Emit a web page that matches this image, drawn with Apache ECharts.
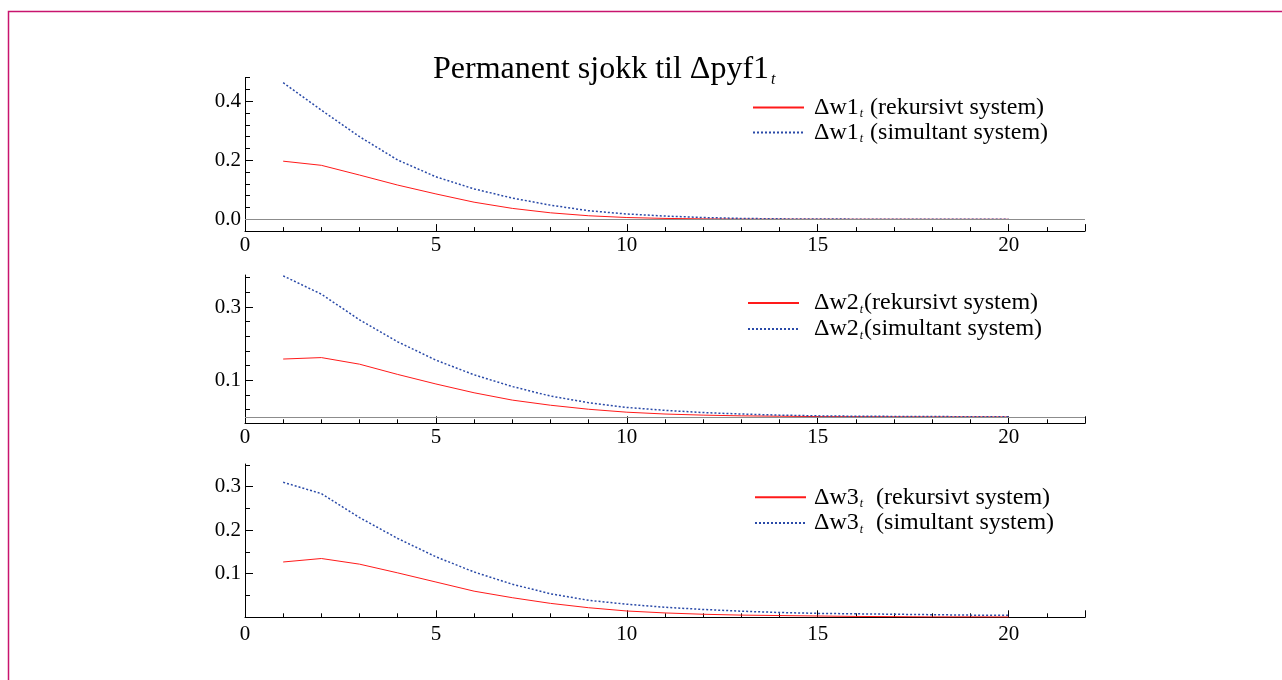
<!DOCTYPE html>
<html>
<head>
<meta charset="utf-8">
<script src="https://cdn.jsdelivr.net/npm/echarts@6/dist/echarts.min.js"></script>
<style>html,body{margin:0;padding:0;background:#fff;}#c{width:1282px;height:680px;}</style>
</head>
<body>
<div id="c"></div>
<script>
// ---- data ----
const periods = [1,2,3,4,5,6,7,8,9,10,11,12,13,14,15,16,17,18,19,20];
const w1Rekursivt = [0.197,0.183,0.150,0.116,0.086,0.058,0.037,0.022,0.012,0.006,0.003,0.0015,0.0008,0.0004,0.0002,0.0001,0.0001,0,0,0];
const w1Simultant = [0.463,0.370,0.280,0.201,0.144,0.103,0.072,0.048,0.029,0.018,0.011,0.006,0.003,0.0015,0.001,0.0005,0.0003,0.0002,0.0001,0.0001];
const w2Rekursivt = [0.158,0.162,0.144,0.116,0.090,0.066,0.046,0.032,0.021,0.013,0.008,0.005,0.003,0.002,0.001,0.0008,0.0005,0.0003,0.0002,0.0001];
const w2Simultant = [0.385,0.335,0.265,0.205,0.155,0.115,0.083,0.057,0.039,0.026,0.018,0.012,0.008,0.005,0.003,0.002,0.0015,0.001,0.0008,0.0005];
const w3Rekursivt = [0.127,0.135,0.122,0.102,0.081,0.060,0.045,0.032,0.022,0.0145,0.010,0.007,0.005,0.004,0.003,0.002,0.0015,0.001,0.001,0.0007];
const w3Simultant = [0.310,0.284,0.229,0.181,0.139,0.104,0.076,0.054,0.039,0.030,0.023,0.018,0.014,0.011,0.009,0.008,0.007,0.006,0.005,0.0046];

const titleText = 'Permanent sjokk til \u0394pyf1_t';
const legendNames = [
  ['\u0394w1_t (rekursivt system)', '\u0394w1_t (simultant system)'],
  ['\u0394w2_t(rekursivt system)', '\u0394w2_t(simultant system)'],
  ['\u0394w3_t  (rekursivt system)', '\u0394w3_t  (simultant system)']
];
const seriesValues = [[w1Rekursivt, w1Simultant],[w2Rekursivt, w2Simultant],[w3Rekursivt, w3Simultant]];
const xLabelValues = [0,5,10,15,20];
const yMajor = [[0,0.2,0.4],[0.1,0.3],[0.1,0.2,0.3]];
const yMinor = [
  [0.04,0.08,0.12,0.16,0.24,0.28,0.32,0.36,0.44,0.48],
  [0.02,0.06,0.14,0.18,0.22,0.26,0.34,0.38],
  [0.05,0.15,0.25,0.35]
];
const yRange = [[-0.04,0.48],[-0.0173,0.3873],[0,0.352]];

// ---- layout ----
const FONT = '"Liberation Serif", "Times New Roman", serif';
const grids = [
  {left:245, top:77.7, width:840, height:153.4},
  {left:245, top:275, width:840, height:148.3},
  {left:245, top:464, width:840, height:153.3}
];
const xLabelMargin = [4, 4, 7];
const legendPos = [
  {left:752, top:95, lh:25, pad:5},
  {left:747, top:290, lh:26, pad:10},
  {left:754, top:484.5, lh:25.7, pad:3}
];
const RED = '#ff1a1a', BLUE = '#2a4aa8';
const sub = (s) => s.replace('_t', '{sub|t}');

const xAxis = [], yAxis = [], series = [], legend = [];
grids.forEach((g, i) => {
  const xi = xAxis.length, yi = yAxis.length;
  xAxis.push({
    type:'value', gridIndex:i, position:'bottom', min:0, max:22, interval:1,
    axisLine:{onZero:false, lineStyle:{color:'#000', width:1}},
    axisTick:{inside:true, length:4, lineStyle:{color:'#000'}},
    axisLabel:{color:'#000', fontFamily:FONT, fontSize:21, margin:xLabelMargin[i],
      formatter:(v)=> xLabelValues.indexOf(v) >= 0 ? String(v) : ''},
    splitLine:{show:false}
  });
  xAxis.push({
    type:'value', gridIndex:i, position:'bottom', min:0, max:22, interval:5,
    axisLine:{show:false, onZero:false},
    axisTick:{inside:true, length:7, lineStyle:{color:'#000'}},
    axisLabel:{show:false}, splitLine:{show:false}
  });
  yAxis.push({
    type:'value', gridIndex:i, position:'left', min:yRange[i][0], max:yRange[i][1],
    axisLine:{show:true, onZero:false, lineStyle:{color:'#000', width:1}},
    axisTick:{show:true, inside:true, length:8, customValues:yMajor[i], lineStyle:{color:'#000'}},
    axisLabel:{color:'#000', fontFamily:FONT, fontSize:21, margin:4, customValues:yMajor[i],
      formatter:(v)=> v.toFixed(1)},
    splitLine:{show:false}
  });
  yAxis.push({
    type:'value', gridIndex:i, position:'left', min:yRange[i][0], max:yRange[i][1],
    axisLine:{show:false, onZero:false},
    axisTick:{show:true, inside:true, length:5, customValues:yMinor[i], lineStyle:{color:'#000'}},
    axisLabel:{show:false}, splitLine:{show:false}
  });
  const [rek, sim] = seriesValues[i];
  series.push({
    type:'line', name:legendNames[i][0], xAxisIndex:xi, yAxisIndex:yi,
    data: periods.map((t,k)=>[t, rek[k]]), symbol:'none', silent:true,
    lineStyle:{color:RED, width:1}, itemStyle:{color:RED}, z:3,
    markLine: i < 2 ? {silent:true, symbol:'none', label:{show:false},
      lineStyle:{color:'#8c8c8c', width:1, type:'solid'}, data:[{yAxis:0}]} : undefined
  });
  series.push({
    type:'line', name:legendNames[i][1], xAxisIndex:xi, yAxisIndex:yi,
    data: periods.map((t,k)=>[t, sim[k]]), symbol:'none', silent:true,
    lineStyle:{color:BLUE, width:1.5, type:[2,2]}, itemStyle:{color:BLUE}, z:4
  });
  const lp = legendPos[i];
  legend.push({
    data: legendNames[i], orient:'vertical', left:lp.left, top:lp.top,
    itemWidth:51, itemHeight:14, itemGap:0, padding:0, selectedMode:false,
    itemStyle:{opacity:0},
    formatter:(n)=> sub(n),
    textStyle:{color:'#000', fontFamily:FONT, fontSize:24, lineHeight:lp.lh, padding:[0,0,0,lp.pad],
      rich:{sub:{fontFamily:FONT, fontSize:12, fontStyle:'italic', lineHeight:lp.lh, verticalAlign:'bottom', padding:[0,1,0,1]}}}
  });
});

const chart = echarts.init(document.getElementById('c'), null, {renderer:'canvas'});
chart.setOption({
  backgroundColor:'#fff',
  animation:false,
  title:{
    text: sub(titleText), left:433, top:52, padding:0,
    textStyle:{color:'#000', fontFamily:FONT, fontSize:32, fontWeight:'normal', lineHeight:36,
      rich:{sub:{fontFamily:FONT, fontSize:16, fontStyle:'italic', lineHeight:36, verticalAlign:'bottom', padding:[0,0,0,2]}}}
  },
  graphic:[{type:'rect', silent:true, shape:{x:8.5, y:11.5, width:1300, height:700},
    style:{fill:'none', stroke:'#c8146e', lineWidth:1.5}}],
  grid: grids.map(g=>Object.assign({containLabel:false}, g)),
  xAxis, yAxis, series, legend
});
</script>
</body>
</html>
